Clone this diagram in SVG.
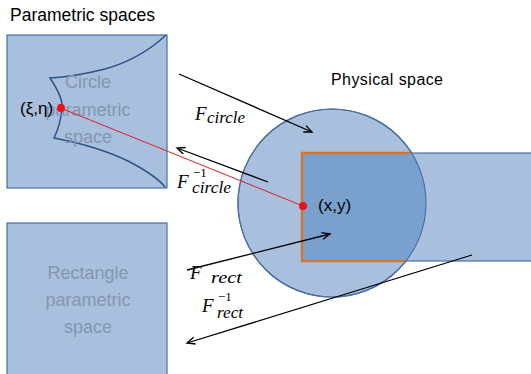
<svg xmlns="http://www.w3.org/2000/svg" width="531" height="374" viewBox="0 0 531 374">
<style>
.sq{fill:#a8bfdd;stroke:#4a6fa3;stroke-width:1.2}
.lbl{font-family:"Liberation Sans",Arial,sans-serif;fill:#000}
.gray{font-family:"Liberation Sans",Arial,sans-serif;font-size:18px;fill:#8496b3;text-anchor:middle}
.m{font-family:"Liberation Serif","Times New Roman",serif;font-style:italic;fill:#000}
.sub{font-family:"Liberation Serif","Times New Roman",serif;font-style:italic;fill:#000;font-size:16px}
.sup{font-family:"Liberation Serif","Times New Roman",serif;fill:#000;font-size:13px}
.arr{stroke:#000;stroke-width:1.3;fill:none;marker-end:url(#ah)}
</style>
<defs>
<marker id="ah" markerUnits="userSpaceOnUse" markerWidth="12" markerHeight="10" refX="9" refY="4" orient="auto">
<path d="M1,0.5 L9,4 L1,7.5" fill="none" stroke="#000" stroke-width="1.3"/>
</marker>
<marker id="rh" markerUnits="userSpaceOnUse" markerWidth="10" markerHeight="8" refX="1" refY="3.5" orient="auto">
<path d="M7,0.5 L1,3.5 L7,6.5" fill="none" stroke="#e02020" stroke-width="1"/>
</marker>
<clipPath id="cc"><circle cx="332" cy="203" r="94"/></clipPath>
</defs>
<text class="lbl" x="10" y="21" font-size="17.5">Parametric spaces</text>
<text class="lbl" x="331" y="85" font-size="16" textLength="112">Physical space</text>
<g id="circle-param">
<rect class="sq" x="7" y="35" width="160" height="153"/>
<path d="M166,35 C150,50 130,62 105,69 C85,74 70,77 50,78 C58,90 63,100 62,108 C61,120 58,130 54,138 C80,143 110,152 130,162 C145,170 158,178 165,187" fill="none" stroke="#2f5185" stroke-width="1.5"/>
<text class="gray" x="88" y="88">Circle</text>
<text class="gray" x="88" y="116">parametric</text>
<text class="gray" x="88" y="143">space</text>
</g>
<g id="rect-param">
<rect class="sq" x="7" y="223" width="160" height="160"/>
<text class="gray" x="88" y="279">Rectangle</text>
<text class="gray" x="88" y="306">parametric</text>
<text class="gray" x="88" y="333">space</text>
</g>
<g id="physical">
<circle cx="332" cy="203" r="94" fill="#a8bfdd" stroke="#4a6fa3" stroke-width="1.2"/>
<rect x="302" y="153" width="234" height="108" fill="#a8bfdd" stroke="#4a6fa3" stroke-width="1.2"/>
<rect x="302" y="153" width="234" height="108" fill="#7aa0cd" clip-path="url(#cc)"/>
<circle cx="332" cy="203" r="94" fill="none" stroke="#4a6fa3" stroke-width="1.2"/>
<path d="M410,153 L302,153 L302,261 L405,261" fill="none" stroke="#d3772f" stroke-width="2.5"/>
</g>
<g id="connectors">
<line class="arr" x1="179" y1="74" x2="312" y2="132"/>
<line class="arr" x1="268" y1="182" x2="177" y2="148"/>
<line class="arr" x1="187" y1="270" x2="330" y2="234"/>
<line class="arr" x1="472" y1="255" x2="187" y2="343"/>
<line x1="303" y1="206" x2="63" y2="109" stroke="#e02020" stroke-width="1" marker-end="url(#rh)"/>
</g>
<g id="points">
<circle cx="61" cy="108" r="4" fill="#ee1111"/>
<circle cx="303" cy="206" r="4" fill="#ee1111"/>
<text class="lbl" x="20" y="114" font-size="17">(ξ,η)</text>
<text class="lbl" x="318" y="211" font-size="17">(x,y)</text>
</g>
<g id="labels">
<text class="m" x="195" y="120" font-size="19">F</text>
<text class="sub" x="207" y="123" textLength="38" lengthAdjust="spacingAndGlyphs">circle</text>
<text class="m" x="177" y="188" font-size="19">F</text>
<text class="sup" x="193" y="177">−1</text>
<text class="sub" x="192" y="193" textLength="39" lengthAdjust="spacingAndGlyphs">circle</text>
<text class="m" x="190" y="279" font-size="19">F</text>
<text class="sub" x="211" y="283" textLength="31" lengthAdjust="spacingAndGlyphs">rect</text>
<text class="m" x="202" y="312" font-size="19">F</text>
<text class="sup" x="218" y="301">−1</text>
<text class="sub" x="217" y="318" textLength="26" lengthAdjust="spacingAndGlyphs">rect</text>
</g>
</svg>
